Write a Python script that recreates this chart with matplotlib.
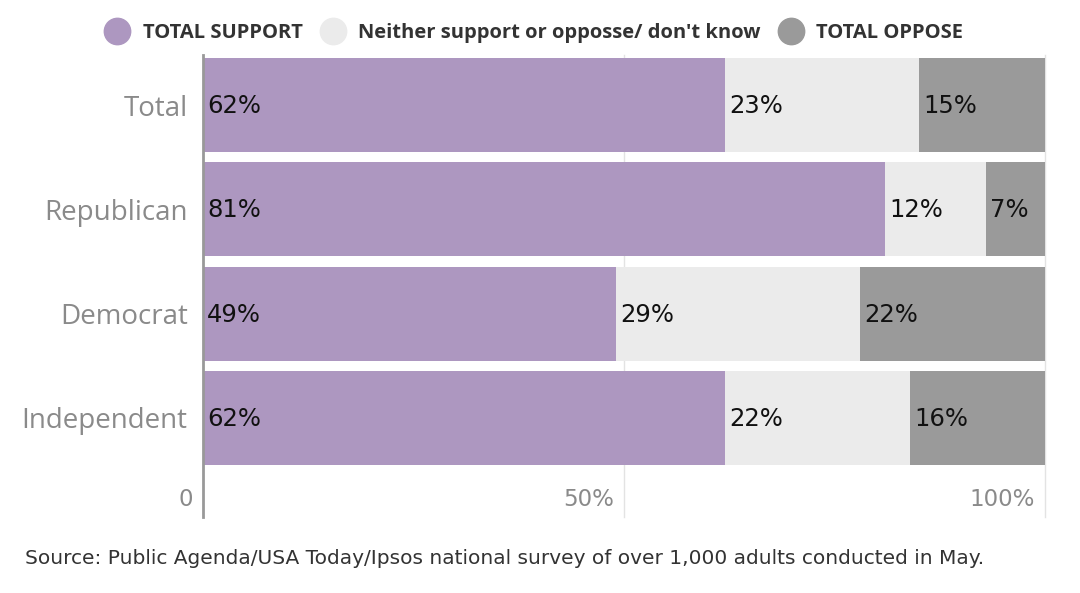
import numpy as np
import matplotlib.pyplot as plt
from matplotlib.lines import Line2D

plt.rcParams['font.family'] = ['Open Sans', 'DejaVu Sans']

categories = ['Total', 'Republican', 'Democrat', 'Independent']
support = [62, 81, 49, 62]
neither = [23, 12, 29, 22]
oppose = [15, 7, 22, 16]
series_names = ['TOTAL SUPPORT', "Neither support or opposse/ don't know", 'TOTAL OPPOSE']
colors = ['#ad97c0', '#ebebeb', '#9a9a9a']
tick_vals = [0, 50, 100]
tick_labels = ['0', '50%', '100%']
source = 'Source: Public Agenda/USA Today/Ipsos national survey of over 1,000 adults conducted in May.'

fig = plt.figure(figsize=(10.8, 5.93), dpi=100)
ax = fig.add_axes([203 / 1080, 1 - 517 / 593, (1045 - 203) / 1080, (517 - 55) / 593])

y = np.arange(len(categories))
left = np.zeros(len(categories))
for vals, col in zip([support, neither, oppose], colors):
    vals = np.array(vals, dtype=float)
    ax.barh(y, vals, left=left, height=0.9, color=col, zorder=2)
    for yi, l, v in zip(y, left, vals):
        ax.text(l + 0.5, yi + 0.01, f'{int(v)}%', va='center', ha='left',
                fontsize=17.5, color='#111111', zorder=3, family='DejaVu Sans')
    left += vals

ax.set_xlim(0, 100)
ax.set_ylim(3.95, -0.48)
ax.set_yticks(y)
ax.set_yticklabels(categories, fontsize=20, color='#8a8a8a')
ax.tick_params(axis='y', length=0, pad=11)
ax.set_xticks([])
for v in [50, 100]:
    ax.axvline(v, color='#e3e3e3', lw=1, zorder=1, clip_on=False)
for v, lab in zip(tick_vals, tick_labels):
    ax.text(v - 1.2, 3.78, lab, ha='right', va='center',
            fontsize=16.5, color='#8a8a8a', family='DejaVu Sans')

for s in ['top', 'right', 'bottom']:
    ax.spines[s].set_visible(False)
ax.spines['left'].set_color('#999999')
ax.spines['left'].set_linewidth(2)
ax.spines['left'].set_zorder(4)

handles = [Line2D([], [], marker='o', ls='', markersize=19, color=c) for c in colors]
leg = fig.legend(handles, series_names, loc='center', bbox_to_anchor=(530 / 1080, 1 - 33 / 593),
                 ncol=3, frameon=False, handletextpad=0.25, columnspacing=0.5,
                 prop={'weight': 'bold', 'size': 14.5})
for t in leg.get_texts():
    t.set_color('#333333')

fig.text(25 / 1080, 1 - 558 / 593, source, ha='left', va='center', fontsize=14.5,
         color='#333333', family='DejaVu Sans')

fig.savefig('out.png', dpi=100)
